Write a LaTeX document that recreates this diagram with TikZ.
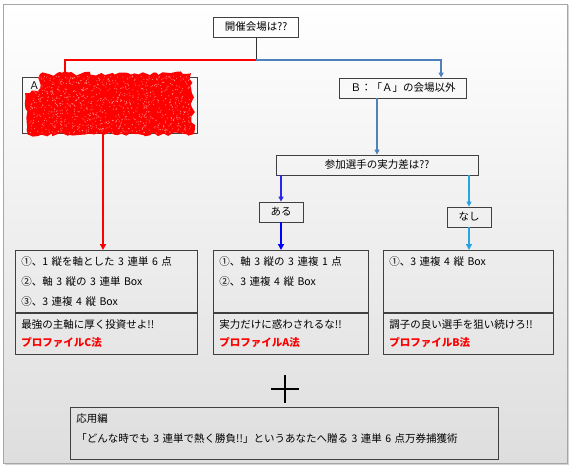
\documentclass[tikz,border=0pt]{standalone}
\usepackage{fontspec}
\setmainfont{Noto Sans CJK JP}
\usepackage{tikz}
\usetikzlibrary{arrows.meta, positioning, calc, shadows, decorations.pathmorphing}

\definecolor{steelb}{RGB}{79,129,189}
\definecolor{arublue}{RGB}{40,40,240}
\definecolor{skyb}{RGB}{40,165,225}
\newcommand{\boxfont}{\fontsize{10.5}{20}\selectfont}
\newcommand{\lowfont}{\fontsize{10.5}{18}\selectfont}

\begin{document}
\begin{tikzpicture}[
    x=1pt, y=-1pt,
    qbox/.style={rectangle, draw=black!75, line width=0.8pt, minimum height=20pt, inner xsep=5pt, inner ysep=2pt, font=\boxfont},
    listbox/.style={rectangle, draw=black!75, line width=0.8pt, anchor=north west, align=left, inner xsep=6pt, inner ysep=2pt, font=\boxfont},
    lowbox/.style={listbox, font=\lowfont, minimum height=41pt},
    arr/.style={-{Triangle[length=5pt, width=5pt]}, line width=1.1pt},
    bigarr/.style={-{Triangle[length=6pt, width=6pt]}, line width=2.2pt},
]
\useasboundingbox (0,0) rectangle (572,468);

% ========== FRAME ==========
\draw[black!35, top color=white, bottom color=black!13,
      drop shadow={shadow xshift=1.5pt, shadow yshift=-1.5pt, opacity=.35}]
    (3,4) rectangle (567,463);

% ========== TOP: venue ==========
\node[qbox, minimum width=85pt] at (256,27) (venue) {開催会場は??};
\coordinate (jn) at (256,60);
\draw[black!80, line width=1pt] (venue.south) -- (jn);

% ========== ROW 2: A / B ==========
\node[draw=black!75, line width=0.8pt, anchor=north west, minimum width=175pt, minimum height=56pt] at (22,77) (boxA) {};
\node[anchor=north west, font=\boxfont, inner sep=0pt] at ([shift={(7pt,-5pt)}]boxA.north west) (labA) {Ａ};
% red scribble over A
\fill[red, decorate, decoration={random steps, segment length=4pt, amplitude=2pt}]
    (40,74) -- (191,73) -- (194,134) -- (28,135) -- (25,93) -- (38,91) -- cycle;
\pgfmathsetseed{7}
\foreach \i in {1,...,900}
    \fill[white, opacity=.5] ({30+161*rnd},{76+57*rnd}) circle (0.55pt);
\foreach \i in {1,...,120}
    \fill[black!70, opacity=.4] ({30+161*rnd},{76+57*rnd}) circle (0.4pt);

\node[qbox, minimum width=127pt] at (403,88) (boxB) {Ｂ：「Ａ」の会場以外};

\draw[arr, red, line width=1.4pt] (jn) -| ([xshift=43pt]boxA.north west);
\draw[arr, steelb, line width=1.4pt] (jn) -| ([xshift=102pt]boxB.north west);

% ========== ROW 3: gap in ability ==========
\node[qbox, minimum width=202pt] at (377,165) (gap) {参加選手の実力差は??};
\draw[arr, steelb] (boxB.south -| gap.north) -- (gap.north);

\node[qbox, minimum width=44pt] at (281,212) (aru) {ある};
\node[qbox, minimum width=44pt] at (469,217) (nashi) {なし};
\draw[arr, arublue] (aru.north |- gap.south) -- (aru.north);
\draw[arr, skyb] (nashi.north |- gap.south) -- (nashi.north);

% ========== ROW 4: results ==========
\node[listbox, text width=170pt, minimum height=62pt] at (15,250) (res1)
    {①、1 縦を軸とした 3 連単 6 点\\②、軸 3 縦の 3 連単 Box\\③、3 連複 4 縦 Box};
\node[lowbox, text width=170pt] at (res1.south west) (low1)
    {最強の主軸に厚く投資せよ!!\\{\color{red}\bfseries プロファイルC法}};

\node[listbox, text width=143pt, minimum height=62pt] at (213,250) (res2)
    {①、軸 3 縦の 3 連複 1 点\\②、3 連複 4 縦 Box\\\mbox{}};
\node[lowbox, text width=143pt] at (res2.south west) (low2)
    {実力だけに惑わされるな!!\\{\color{red}\bfseries プロファイルA法}};

\node[listbox, text width=158pt, minimum height=62pt] at (383,250) (res3)
    {①、3 連複 4 縦 Box\\\mbox{}\\\mbox{}};
\node[lowbox, text width=158pt] at (res3.south west) (low3)
    {調子の良い選手を狙い続けろ!!\\{\color{red}\bfseries プロファイルB法}};

\draw[bigarr, red] ([xshift=81pt]boxA.south west) -- ([xshift=81pt]boxA.south west |- res1.north);
\draw[bigarr, blue] (aru.south) -- (aru.south |- res2.north);
\draw[bigarr, skyb] (nashi.south) -- (nashi.south |- res3.north);

% ========== PLUS + applied ==========
\coordinate (plus) at (285,389);
\draw[line width=1.3pt] ([xshift=-14pt]plus) -- ([xshift=14pt]plus)
                        ([yshift=-14pt]plus) -- ([yshift=14pt]plus);

\node[listbox, text width=416pt, minimum height=52pt] at (70,407) (apply)
    {応用編\\「どんな時でも 3 連単で熱く勝負!!」というあなたへ贈る 3 連単 6 点万券捕獲術\\[-10pt]\mbox{}};

\end{tikzpicture}
\end{document}
